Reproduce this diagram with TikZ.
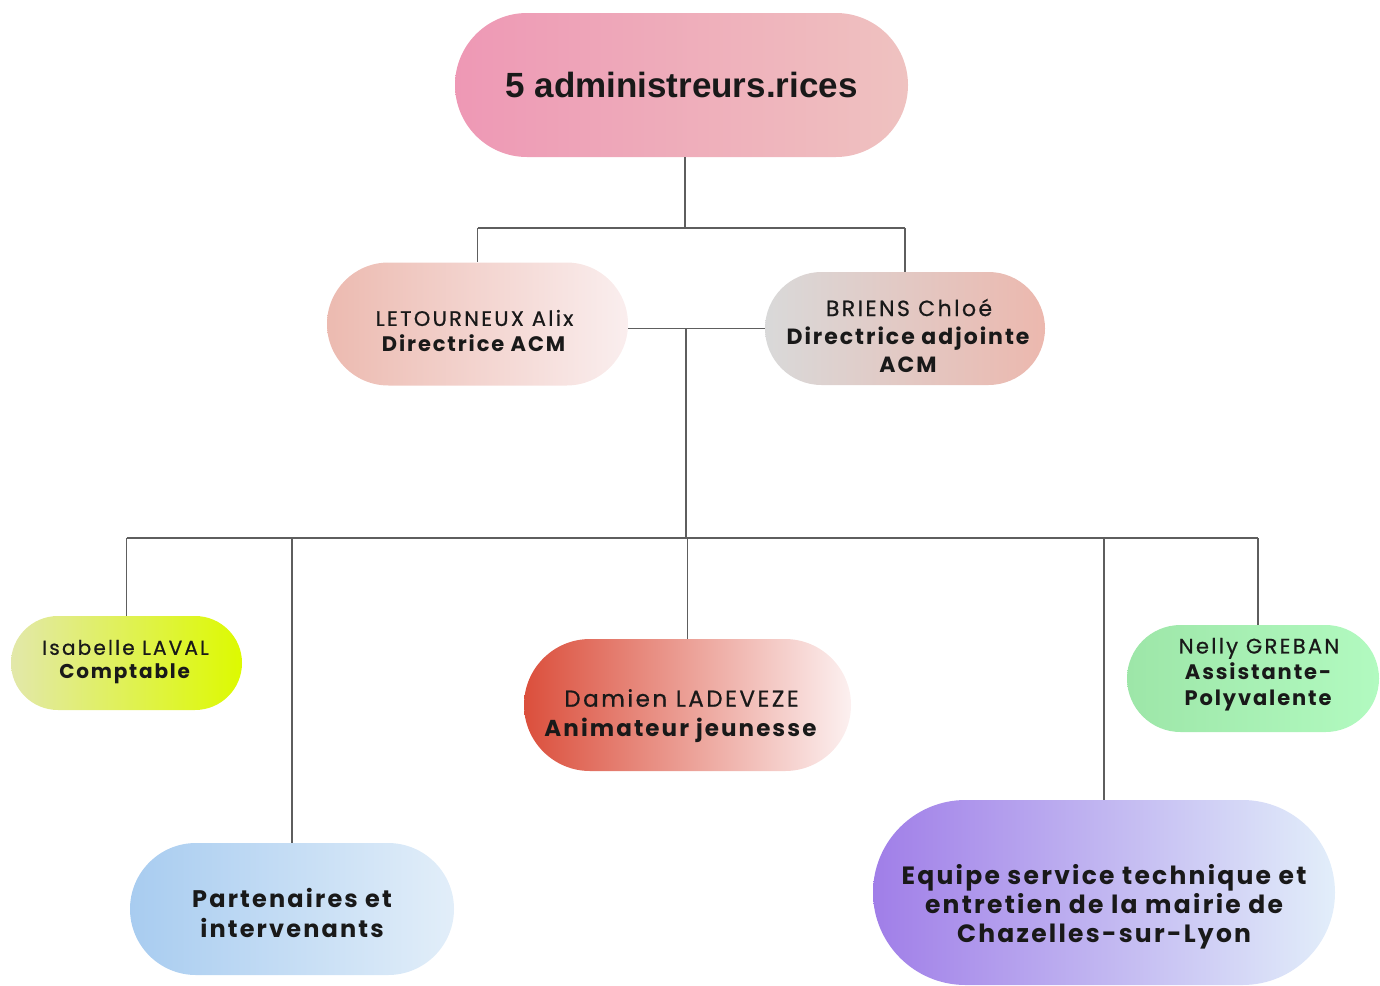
\documentclass[tikz,border=0pt]{standalone}
\usepackage{fontspec}
\setmainfont{Poppins}[LetterSpace=11, UprightFeatures={FakeBold=0.7}, BoldFeatures={LetterSpace=9}]
\newfontfamily\topfont{Liberation Sans}
\definecolor{linec}{HTML}{5E5E5E}
\begin{document}
\begin{tikzpicture}[x=1pt,y=-1pt,
  pill/.style={draw=none, inner sep=0pt},
  txt/.style={align=center, inner sep=0pt, text=black!90},
  conn/.style={draw=linec, line width=1.9pt}]
\useasboundingbox (0,0) rectangle (1380,985);
% pills
\node[pill, minimum width=453pt, minimum height=144pt, rounded corners=72pt,
  left color={rgb,255:red,238;green,152;blue,181}, right color={rgb,255:red,239;green,194;blue,192}] (top) at (681.5,85) {};
\node[pill, minimum width=301pt, minimum height=123pt, rounded corners=61.5pt,
  left color={rgb,255:red,236;green,186;blue,176}, right color={rgb,255:red,250;green,238;blue,238}] (let) at (477.5,324) {};
\node[pill, minimum width=280pt, minimum height=113pt, rounded corners=56.5pt,
  left color={rgb,255:red,217;green,217;blue,217}, right color={rgb,255:red,236;green,184;blue,174}] (bri) at (905,328.5) {};
\node[pill, minimum width=231pt, minimum height=94pt, rounded corners=47pt,
  left color={rgb,255:red,226;green,232;blue,170}, right color={rgb,255:red,221;green,250;blue,0}] (isa) at (126.5,663) {};
\node[pill, minimum width=327pt, minimum height=132pt, rounded corners=66pt,
  left color={rgb,255:red,219;green,79;blue,60}, right color={rgb,255:red,252;green,240;blue,240}] (dam) at (687.5,705) {};
\node[pill, minimum width=252pt, minimum height=107pt, rounded corners=53.5pt,
  left color={rgb,255:red,157;green,230;blue,168}, right color={rgb,255:red,178;green,250;blue,192}] (nel) at (1253,678.5) {};
\node[pill, minimum width=324pt, minimum height=132pt, rounded corners=66pt,
  left color={rgb,255:red,168;green,204;blue,240}, right color={rgb,255:red,226;green,238;blue,249}] (par) at (292,909) {};
\node[pill, minimum width=462pt, minimum height=185pt, rounded corners=92.5pt,
  left color={rgb,255:red,160;green,126;blue,232}, right color={rgb,255:red,226;green,238;blue,250}] (equ) at (1104,892.5) {};
% texts
\node[txt, font=\topfont\bfseries\fontsize{35}{40}\selectfont] (topT) at (top.center) {5 administreurs.rices};
\node[txt, font=\fontsize{21}{26}\selectfont] (letT) at ([xshift=-3pt,yshift=-7pt]let.center) {LETOURNEUX Alix\\\textbf{Directrice ACM}};
\node[txt, font=\fontsize{22}{28}\selectfont] (briT) at ([xshift=4pt,yshift=-7pt]bri.center) {BRIENS Chloé\\\textbf{Directrice adjointe}\\\textbf{ACM}};
\node[txt, font=\fontsize{20}{24}\selectfont] (isaT) at ([xshift=-1pt,yshift=1pt]isa.center) {Isabelle LAVAL\\\textbf{Comptable}};
\node[txt, font=\fontsize{23}{30}\selectfont] (damT) at ([xshift=-6pt,yshift=-11pt]dam.center) {Damien LADEVEZE\\\textbf{Animateur jeunesse}};
\node[txt, font=\fontsize{21}{26}\selectfont] (nelT) at ([xshift=6pt,yshift=4pt]nel.center) {Nelly GREBAN\\\textbf{Assistante-}\\\textbf{Polyvalente}};
\node[txt, font=\bfseries\fontsize{24}{30}\selectfont] (parT) at ([yshift=-4pt]par.center) {Partenaires et\\intervenants};
\node[txt, font=\bfseries\fontsize{25}{29}\selectfont] (equT) at ([yshift=-14pt]equ.center) {Equipe service technique et\\entretien de la mairie de\\Chazelles-sur-Lyon};
% connectors
\coordinate (bus1) at (685,228);
\coordinate (bus2) at (686,538);
\coordinate (neldrop) at ([xshift=5pt]nel.north);
\draw[conn] (bus1 |- top.south) -- (bus1);
\draw[conn] (let.north |- bus1) -- (bri.north |- bus1);
\draw[conn] (let.north |- bus1) -- (let.north);
\draw[conn] (bri.north |- bus1) -- (bri.north);
\draw[conn] (let.east |- bri.west) -- (bri.west);
\draw[conn] (bus2 |- bri.west) -- (bus2);
\draw[conn] (isa.north |- bus2) -- (neldrop |- bus2);
\draw[conn] (isa.north |- bus2) -- (isa.north);
\draw[conn] (par.north |- bus2) -- (par.north);
\draw[conn] (dam.north |- bus2) -- (dam.north);
\draw[conn] (equ.north |- bus2) -- (equ.north);
\draw[conn] (neldrop |- bus2) -- (neldrop);
\end{tikzpicture}
\end{document}
